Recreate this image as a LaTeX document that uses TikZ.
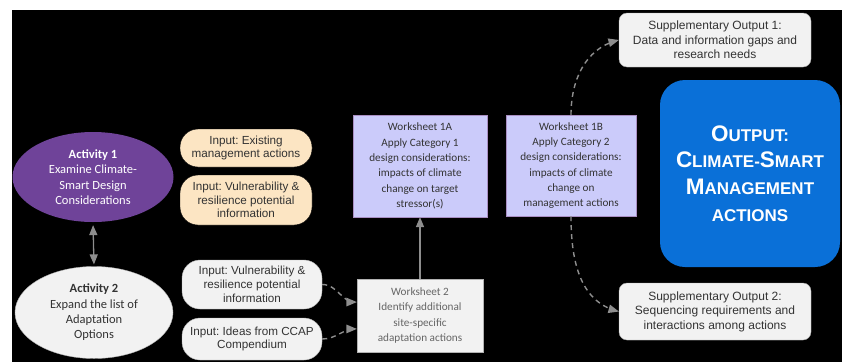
\documentclass[tikz,border=0pt]{standalone}
\usepackage{fontspec}
\setmainfont{Carlito}
\newfontfamily\arialf{Liberation Sans}
\usetikzlibrary{arrows}
\usetikzlibrary{shapes.geometric}
\definecolor{actpurple}{HTML}{6F4399}
\definecolor{peach}{HTML}{FCE5C3}
\definecolor{lavender}{HTML}{CBCBFA}
\definecolor{lightgr}{HTML}{F2F2F2}
\definecolor{outblue}{HTML}{0A70D8}
\definecolor{arrowgr}{HTML}{8E8E8E}
\definecolor{txtgr}{HTML}{333333}
\newcommand{\scw}[2]{{\fontsize{22.5pt}{26.7pt}\selectfont #1}{\fontsize{17pt}{26.7pt}\selectfont #2}}
\tikzset{%
  myedge/.style={<->, >=triangle 45, draw=arrowgr, line width=1.3pt},
  myline/.style={->, >=triangle 45, draw=arrowgr, line width=1.3pt},
  mydash/.style={->, >=triangle 45, draw=arrowgr, line width=1.4pt, dash pattern=on 5pt off 4pt},
  activity/.style={ellipse, align=center, font=\fontsize{12.5pt}{15.3pt}\selectfont},
  inputpill/.style={rounded corners=18pt, draw=black, align=center, text=txtgr,
    font=\arialf\fontsize{11.7pt}{13.8pt}\selectfont, inner sep=0pt},
  worksheet/.style={rectangle, align=center, text=txtgr, inner sep=0pt,
    font=\fontsize{11.2pt}{15.3pt}\selectfont},
  suppbox/.style={rounded corners=8pt, fill=lightgr, draw=gray!70, align=center,
    text=txtgr, inner sep=0pt, font=\arialf\fontsize{12pt}{14.6pt}\selectfont}
}

\begin{document}
\frenchspacing
\begin{tikzpicture}[x=1pt, y=-1pt]
  \useasboundingbox [fill=white] (0,0) rectangle (842,362);
  \fill [black] (12,10) rectangle (842,362);

% activities
\node [activity, fill=actpurple, text=white, minimum width=161pt, minimum height=90pt]
  (act1) at (93,177) {\textbf{Activity 1}\\Examine Climate-\\Smart Design\\Considerations};
\node [activity, fill=lightgr, draw=gray!60, text=txtgr, minimum width=158pt, minimum height=92pt]
  (act2) at (94,312.5) {\textbf{Activity 2}\\Expand the list of\\Adaptation\\Options};

% inputs
\node [inputpill, fill=peach, minimum width=132pt, minimum height=38pt]
  (inmgmt) at (246,148) {Input: Existing\\management actions};
\node [inputpill, fill=peach, minimum width=132pt, minimum height=50pt]
  (invuln) at (246,200) {Input: Vulnerability \&\\resilience potential\\information};
\node [inputpill, fill=lightgr, draw=gray!60, minimum width=140pt, minimum height=49pt]
  (invulnb) at (252,284.5) {Input: Vulnerability \&\\resilience potential\\information};
\node [inputpill, fill=lightgr, draw=gray!60, minimum width=140pt, minimum height=42pt]
  (inccap) at (252,339) {Input: Ideas from CCAP\\Compendium};

% worksheets
\node [worksheet, fill=lavender, draw=actpurple!60, minimum width=134pt, minimum height=102pt]
  (wsA) at (420,166) {Worksheet 1A\\Apply Category 1\\design considerations:\\impacts of climate\\change on target\\stressor(s)};
\node [worksheet, fill=lavender, draw=actpurple!60, minimum width=130pt, minimum height=101pt]
  (wsB) at (571,165.5) {Worksheet 1B\\Apply Category 2\\design considerations:\\impacts of climate\\change on\\management actions};
\node [worksheet, fill=lightgr, draw=gray!60, text=gray!80!black, minimum width=126pt, minimum height=73pt]
  (wsII) at (420,315.5) {Worksheet 2\\Identify additional\\site-specific\\adaptation actions};

% outputs
\node [suppbox, minimum width=192pt, minimum height=54pt]
  (suppI) at (715,40) {Supplementary Output 1:\\Data and information gaps and\\research needs};
\node [suppbox, minimum width=192pt, minimum height=57pt]
  (suppII) at (715,311.5) {Supplementary Output 2:\\Sequencing requirements and\\interactions among actions};
\node [rounded corners=25pt, fill=outblue, text=white, align=center, minimum width=180pt,
  minimum height=187pt, font=\arialf\bfseries\fontsize{22.5pt}{26.7pt}\selectfont]
  (out) at (750,173.5) {\scw{O}{UTPUT:}\\\scw{C}{LIMATE-}\scw{S}{MART}\\\scw{M}{ANAGEMENT}\\\scw{}{ACTIONS}};

% connectors
\draw [myedge, shorten <=3pt, shorten >=2pt] (act1.south) -- (act2.north);
\draw [myline] (wsII.north) -- (wsA.south);
\draw [mydash] (invulnb.east) to[out=0, in=180] (wsII.168);
\draw [mydash] (inccap.east) to[out=0, in=180] (wsII.192);
\draw [mydash] (wsB.north) to[out=90, in=195] (suppI.west);
\draw [mydash] (wsB.south) to[out=-90, in=165] (suppII.west);
\end{tikzpicture}
\end{document}
